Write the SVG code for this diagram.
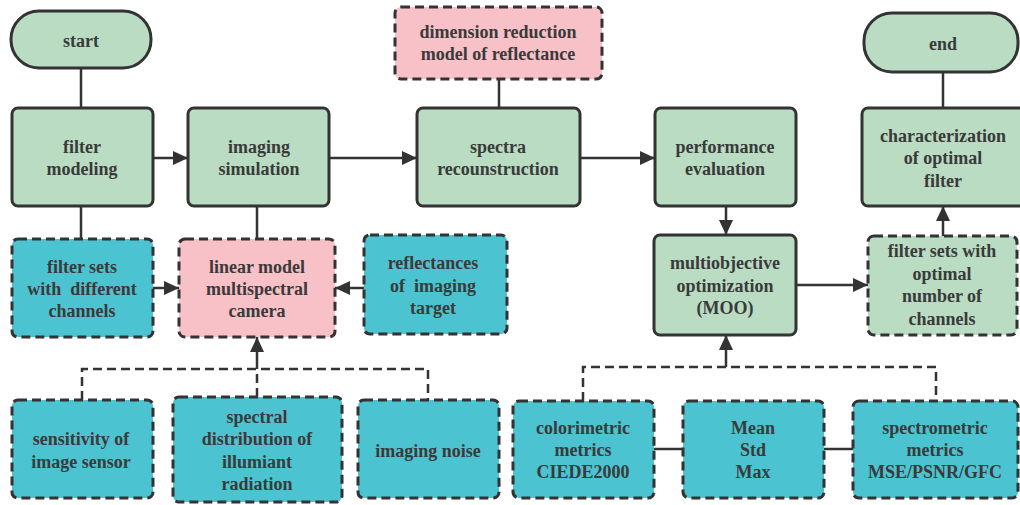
<svg xmlns="http://www.w3.org/2000/svg" width="1020" height="505" viewBox="0 0 1020 505">
<defs>
<marker id="arr" markerUnits="userSpaceOnUse" markerWidth="16" markerHeight="16" refX="15" refY="7" orient="auto">
<path d="M0,0 L15,7 L0,14 z" fill="#333"/>
</marker>
<style>
.g{fill:#b9dcc3;stroke:#333;stroke-width:3}
.t{fill:#4cc3d0;stroke:#333;stroke-width:3;stroke-dasharray:9 5}
.p{fill:#f8c0c7;stroke:#333;stroke-width:3;stroke-dasharray:9 5}
.gd{fill:#b9dcc3;stroke:#333;stroke-width:3;stroke-dasharray:9 5}
text{font-family:"Liberation Serif","Times New Roman",serif;font-weight:bold;font-size:18px;fill:#3a3a3a;text-anchor:middle}
.c line,.c path{stroke:#333;stroke-width:2.5;fill:none}
.c .d{stroke-dasharray:9 5}
</style>
</defs>
<rect width="1020" height="505" fill="#fff"/>
<g class="c" id="connectors">
<line x1="81" y1="68" x2="81" y2="108"/>
<line x1="81" y1="206" x2="81" y2="239"/>
<line x1="257" y1="206" x2="257" y2="239"/>
<line x1="153" y1="158" x2="188" y2="158" marker-end="url(#arr)"/>
<line x1="329" y1="158" x2="417" y2="158" marker-end="url(#arr)"/>
<line x1="499" y1="79" x2="499" y2="108"/>
<line x1="580" y1="158" x2="655" y2="158" marker-end="url(#arr)"/>
<line x1="726" y1="206" x2="726" y2="235" marker-end="url(#arr)"/>
<line x1="796" y1="285" x2="868" y2="285" marker-end="url(#arr)"/>
<line x1="943" y1="236" x2="943" y2="206" marker-end="url(#arr)"/>
<line x1="943" y1="72" x2="943" y2="108"/>
<line x1="153" y1="288" x2="179" y2="288" marker-end="url(#arr)"/>
<line x1="364" y1="288" x2="335" y2="288" marker-end="url(#arr)"/>
<path class="d" d="M82,400 V369 H428 V400"/>
<path class="d" d="M257,397 V369"/>
<line x1="257" y1="369" x2="257" y2="337" marker-end="url(#arr)"/>
<path class="d" d="M583,401 V367 H936 V401"/>
<line x1="726" y1="367" x2="726" y2="335" marker-end="url(#arr)"/>
<line x1="654" y1="449" x2="683" y2="449"/>
<line x1="824" y1="449" x2="853" y2="449"/>
</g>
<g id="start"><rect class="g" x="11" y="11" width="140" height="57" rx="28"/><text x="81" y="47">start</text></g>
<g id="filter-modeling"><rect class="g" x="12" y="108" width="141" height="98" rx="6"/><text x="82" y="153">filter</text><text x="82" y="175">modeling</text></g>
<g id="imaging-simulation"><rect class="g" x="188" y="108" width="141" height="98" rx="6"/><text x="259" y="153">imaging</text><text x="259" y="175">simulation</text></g>
<g id="dimension-reduction"><rect class="p" x="395" y="7" width="207" height="72" rx="6"/><text x="498" y="38">dimension reduction</text><text x="498" y="60">model of reflectance</text></g>
<g id="spectra-reconstruction"><rect class="g" x="417" y="108" width="163" height="98" rx="6"/><text x="498" y="153">spectra</text><text x="498" y="175">recounstruction</text></g>
<g id="performance-evaluation"><rect class="g" x="655" y="108" width="141" height="98" rx="6"/><text x="725" y="153">performance</text><text x="725" y="175">evaluation</text></g>
<g id="end"><rect class="g" x="864" y="13" width="154" height="59" rx="28"/><text x="943" y="50">end</text></g>
<g id="characterization"><rect class="g" x="862" y="108" width="164" height="98" rx="6"/><text x="943" y="142">characterization</text><text x="943" y="164">of optimal</text><text x="943" y="187">filter</text></g>
<g id="filter-sets-different"><rect class="t" x="12" y="239" width="141" height="98" rx="6"/><text x="82" y="273">filter sets</text><text x="82" y="295" xml:space="preserve">with  different</text><text x="82" y="317">channels</text></g>
<g id="linear-model"><rect class="p" x="179" y="239" width="156" height="98" rx="6"/><text x="257" y="273">linear model</text><text x="257" y="295">multispectral</text><text x="257" y="317">camera</text></g>
<g id="reflectances"><rect class="t" x="364" y="235" width="143" height="99" rx="6"/><text x="433" y="269">reflectances</text><text x="433" y="292" xml:space="preserve">of  imaging</text><text x="433" y="314">target</text></g>
<g id="moo"><rect class="g" x="654" y="235" width="142" height="100" rx="6"/><text x="725" y="269">multiobjective</text><text x="725" y="292">optimization</text><text x="725" y="314">(MOO)</text></g>
<g id="filter-sets-optimal"><rect class="gd" x="868" y="236" width="149" height="99" rx="6"/><text x="942" y="257">filter sets with</text><text x="942" y="280">optimal</text><text x="942" y="302">number of</text><text x="942" y="325">channels</text></g>
<g id="sensitivity"><rect class="t" x="12" y="400" width="141" height="98" rx="6"/><text x="81" y="445">sensitivity of</text><text x="81" y="468">image sensor</text></g>
<g id="spectral-distribution"><rect class="t" x="173" y="397" width="169" height="105" rx="6"/><text x="257" y="423">spectral</text><text x="257" y="445">distribution of</text><text x="257" y="468">illumiant</text><text x="257" y="490">radiation</text></g>
<g id="imaging-noise"><rect class="t" x="358" y="400" width="141" height="98" rx="6"/><text x="428" y="457">imaging noise</text></g>
<g id="colorimetric"><rect class="t" x="513" y="401" width="141" height="97" rx="6"/><text x="583" y="434">colorimetric</text><text x="583" y="456">metrics</text><text x="583" y="478">CIEDE2000</text></g>
<g id="mean-std-max"><rect class="t" x="683" y="401" width="141" height="97" rx="6"/><text x="753" y="434">Mean</text><text x="753" y="456">Std</text><text x="753" y="478">Max</text></g>
<g id="spectrometric"><rect class="t" x="853" y="401" width="165" height="97" rx="6"/><text x="935" y="434">spectrometric</text><text x="935" y="456">metrics</text><text x="935" y="478">MSE/PSNR/GFC</text></g>
</svg>
